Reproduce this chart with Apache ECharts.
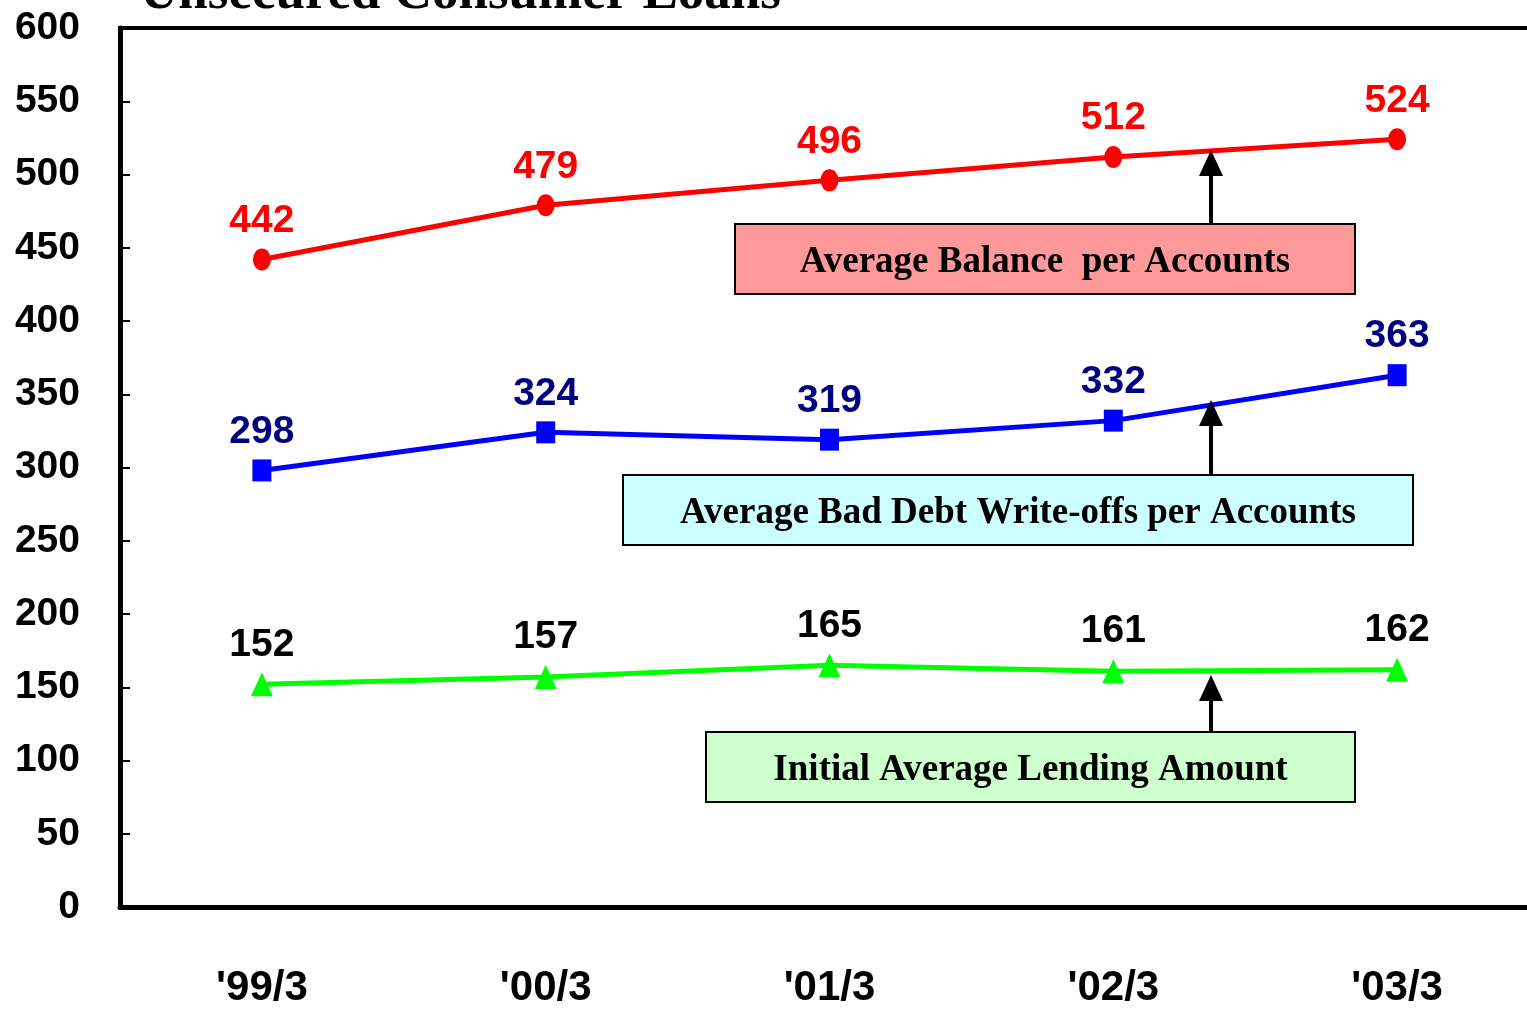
<!DOCTYPE html>
<html>
<head>
<meta charset="utf-8">
<script src="https://cdn.jsdelivr.net/npm/echarts@6/dist/echarts.min.js"></script>
<style>
  html, body { margin: 0; padding: 0; background: #fff; }
  #container { width: 1527px; height: 1009px; }
</style>
</head>
<body>
<div id="container"></div>
<script>
var dom = document.getElementById("container");
var myChart = echarts.init(dom);
var option = null;

// data
var categories = ["'99/3", "'00/3", "'01/3", "'02/3", "'03/3"];
var balance = [442, 479, 496, 512, 524];       // Average Balance per Accounts
var writeOffs = [298, 324, 319, 332, 363];     // Average Bad Debt Write-offs per Accounts
var lending = [152, 157, 165, 161, 162];       // Initial Average Lending Amount

var sans = "'Liberation Sans', Arial, sans-serif";
var serif = "'Liberation Serif', 'Times New Roman', serif";

function labelStyle(color) {
  return {
    show: true,
    position: "top",
    distance: 8,
    color: color,
    fontFamily: sans,
    fontWeight: "bold",
    fontSize: 39
  };
}

// boxes with arrows pointing to the lines
function note(x, y, w, h, fill, text, ax, tipY) {
  return [
    {
      type: "rect",
      shape: { x: x, y: y, width: w, height: h },
      style: { fill: fill, stroke: "#000", lineWidth: 2 },
      z: 10
    },
    {
      type: "text",
      style: {
        x: x + w / 2, y: y + h / 2 + 3,
        text: text,
        align: "center", verticalAlign: "middle",
        font: "bold 37px " + serif,
        fill: "#000"
      },
      z: 11
    },
    {
      type: "line",
      shape: { x1: ax, y1: y, x2: ax, y2: tipY + 22 },
      style: { stroke: "#000", lineWidth: 4 },
      z: 10
    },
    {
      type: "polygon",
      shape: { points: [[ax, tipY], [ax - 12, tipY + 26], [ax + 12, tipY + 26]] },
      style: { fill: "#000" },
      z: 10
    }
  ];
}

option = {
  backgroundColor: "#fff",
  animation: false,
  grid: {
    left: 120,
    top: 28,
    right: -12,
    bottom: 102,
    outerBoundsMode: "none",
    containLabel: false,
    show: true,
    borderColor: "#000",
    borderWidth: 4
  },
  xAxis: {
    type: "category",
    data: categories,
    boundaryGap: true,
    axisLine: { lineStyle: { color: "#000", width: 5 } },
    axisTick: { inside: true, length: 16, lineStyle: { color: "#000", width: 4 } },
    axisLabel: {
      color: "#000",
      fontFamily: sans,
      fontWeight: "bold",
      fontSize: 42,
      margin: 60
    }
  },
  yAxis: {
    type: "value",
    min: 0,
    max: 600,
    interval: 50,
    splitLine: { show: false },
    axisLine: { show: true, lineStyle: { color: "#000", width: 5 } },
    axisTick: { show: true, inside: true, length: 10, lineStyle: { color: "#000", width: 2 } },
    axisLabel: {
      color: "#000",
      fontFamily: sans,
      fontWeight: "bold",
      fontSize: 39,
      margin: 40
    }
  },
  series: [
    {
      name: "Average Balance per Accounts",
      type: "line",
      data: balance,
      symbol: "circle",
      symbolSize: [18, 22],
      itemStyle: { color: "#FF0000" },
      lineStyle: { color: "#FF0000", width: 5 },
      label: labelStyle("#FF0000")
    },
    {
      name: "Average Bad Debt Write-offs per Accounts",
      type: "line",
      data: writeOffs,
      symbol: "rect",
      symbolSize: [19, 22],
      itemStyle: { color: "#0000FF" },
      lineStyle: { color: "#0000FF", width: 5 },
      label: labelStyle("#000080")
    },
    {
      name: "Initial Average Lending Amount",
      type: "line",
      data: lending,
      symbol: "triangle",
      symbolSize: [22, 24],
      itemStyle: { color: "#00FF00" },
      lineStyle: { color: "#00FF00", width: 5 },
      label: labelStyle("#000")
    }
  ],
  graphic: [
    {
      type: "text",
      style: {
        x: 140, y: 21,
        text: "Unsecured Consumer Loans",
        verticalAlign: "bottom",
        font: "bold 53px " + serif,
        fill: "#000"
      }
    }
  ]
    .concat(note(735, 224, 620, 70, "#FF9999", "Average Balance  per Accounts", 1211, 150))
    .concat(note(623, 475, 790, 70, "#CCFFFF", "Average Bad Debt Write-offs per Accounts", 1211, 400))
    .concat(note(706, 732, 649, 70, "#CCFFCC", "Initial Average Lending Amount", 1211, 675))
};

if (option && typeof option === "object") {
  myChart.setOption(option, true);
}
</script>
</body>
</html>
